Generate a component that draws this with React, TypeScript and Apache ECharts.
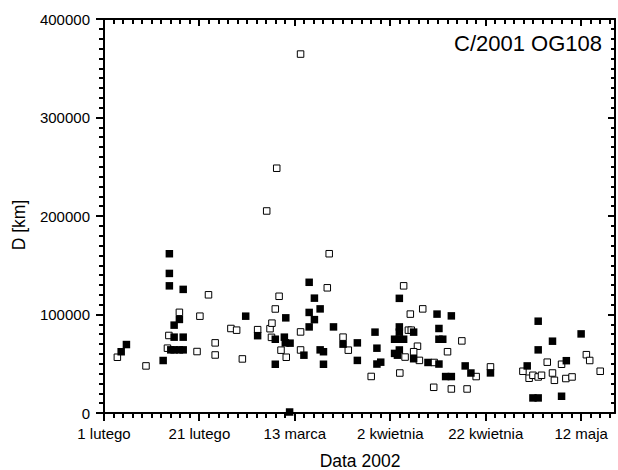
import React, { useEffect, useRef } from "react";
import * as echarts from "echarts";

// Days counted from 1 February 2002
const xTickDays = [0, 20, 40, 60, 80, 100];
const xTickLabels = ["1 lutego", "21 lutego", "13 marca", "2 kwietnia", "22 kwietnia", "12 maja"];

// Filled squares
const filledDays = [3.6, 4.7, 12.4, 13.7, 13.7, 13.7, 16.6, 14.7, 15.8, 14.7, 16.6, 14.0, 14.7, 15.8, 16.6, 29.7, 32.2, 35.9, 35.9, 37.8, 38.1, 38.0, 39.0, 38.9, 41.9, 43.0, 44.1, 43.0, 44.1, 43.0, 45.3, 45.3, 46.0, 46.0, 48.1, 50.1, 53.1, 53.1, 56.8, 57.2, 57.2, 58.0, 61.9, 61.9, 61.9, 60.9, 61.9, 62.8, 64.9, 60.9, 61.9, 61.5, 64.9, 67.9, 70.2, 69.8, 72.8, 70.2, 70.2, 71.0, 71.6, 72.8, 75.7, 76.9, 81.0, 88.7, 91.0, 91.0, 94.0, 96.9, 89.9, 91.0, 95.9, 100.0];
const filledKm = [62200, 69500, 53300, 161700, 141700, 129100, 125500, 89200, 95000, 77000, 77000, 64100, 64100, 64100, 64100, 98300, 78500, 74900, 49500, 77000, 96600, 71200, 70900, 1000, 58700, 132700, 116600, 102100, 94800, 87400, 105700, 64100, 62200, 49500, 87400, 69900, 71200, 53400, 82100, 65800, 49700, 51600, 116400, 87400, 82100, 74900, 74900, 74900, 82100, 60500, 64000, 58700, 55100, 51300, 49700, 100400, 98600, 85800, 74900, 74900, 37000, 37000, 47800, 40600, 40700, 47800, 93200, 64100, 72900, 53100, 15300, 15300, 17000, 80300];

// Open squares
const openDays = [2.8, 8.8, 13.6, 13.3, 15.8, 20.1, 19.5, 21.9, 23.3, 23.3, 26.6, 27.8, 29.0, 32.2, 34.1, 34.8, 35.2, 35.1, 35.9, 36.7, 36.2, 37.1, 38.2, 41.2, 41.2, 41.2, 47.2, 46.8, 50.1, 51.2, 56.0, 62.8, 64.2, 66.8, 63.8, 64.4, 65.7, 64.9, 63.1, 66.1, 69.2, 62.0, 69.1, 72.0, 75.0, 72.8, 76.1, 78.0, 81.0, 87.8, 89.1, 89.9, 91.0, 91.7, 92.9, 94.0, 94.4, 95.9, 96.8, 98.1, 101.1, 101.8, 104.0];
const openKm = [56600, 47800, 78700, 65800, 102200, 98300, 62400, 120000, 71200, 58900, 85800, 84100, 54900, 84600, 205100, 85600, 91200, 76800, 105600, 118500, 248500, 63800, 56600, 364400, 82300, 64000, 161700, 127100, 77000, 63800, 37100, 129100, 100400, 105700, 84100, 84100, 67800, 62200, 56800, 53400, 51300, 40600, 26100, 62200, 73200, 24400, 24400, 37000, 46800, 42400, 35300, 38300, 36600, 38300, 51600, 40600, 33200, 49500, 35000, 36600, 59200, 53300, 42400];

const FONT = "'Liberation Sans', Arial, Helvetica, sans-serif";
const X_MAX = 107.1;
const Y_MAX = 400000;

export default function App() {
  const ref = useRef<HTMLDivElement>(null);

  useEffect(() => {
    if (!ref.current) return;
    const chart = echarts.init(ref.current, undefined, { renderer: "svg" });

    // minor tick positions on the date axis (decoration only, every 2 days)
    const xMinorDays: number[] = [];
    for (let d = 2; d < X_MAX; d += 2) if (d % 20 !== 0) xMinorDays.push(d);

    const W = 2;
    const xTicks = (bottomLen: number, topLen: number) => (params: any, api: any) => {
      const v = api.value(0);
      const b = api.coord([v, 0]);
      const t = api.coord([v, Y_MAX]);
      const x = Math.round(b[0]) - W / 2;
      return {
        type: "group",
        children: [
          { type: "rect", shape: { x, y: Math.round(b[1]), width: W, height: bottomLen }, style: { fill: "#000" } },
          { type: "rect", shape: { x, y: Math.round(t[1]), width: W, height: topLen }, style: { fill: "#000" } },
        ],
      };
    };

    const axLine = { show: true, onZero: false, lineStyle: { color: "#000", width: 2 } };
    const tickLine = { color: "#000", width: 2 };

    const option: any = {
      animation: false,
      backgroundColor: "#fff",
      grid: { left: 104, right: 2, top: 19, bottom: 57, containLabel: false },
      xAxis: [
        {
          type: "value",
          min: 0,
          max: X_MAX,
          interval: 20,
          position: "bottom",
          splitLine: { show: false },
          axisLine: axLine,
          axisTick: { show: false },
          axisLabel: {
            show: true,
            margin: 13,
            color: "#000",
            fontSize: 15,
            fontFamily: FONT,
            formatter: (v: number) => {
              for (let i = 0; i < xTickDays.length; i++) {
                if (Math.abs(v - xTickDays[i]) < 1e-6) return xTickLabels[i];
              }
              return "";
            },
          },
        },
        {
          type: "value",
          min: 0,
          max: X_MAX,
          interval: 20,
          position: "top",
          splitLine: { show: false },
          axisLine: axLine,
          axisTick: { show: false },
          axisLabel: { show: false },
        },
      ],
      yAxis: [
        {
          type: "value",
          position: "left",
          min: 0,
          max: Y_MAX,
          interval: 100000,
          splitLine: { show: false },
          axisLine: axLine,
          axisTick: { show: true, inside: false, length: 8, lineStyle: tickLine },
          minorTick: { show: true, splitNumber: 10, length: 5, lineStyle: tickLine },
          minorSplitLine: { show: false },
          axisLabel: {
            show: true,
            margin: 14,
            color: "#000",
            fontSize: 15,
            fontFamily: FONT,
            formatter: (v: number) => String(v),
          },
        },
        {
          type: "value",
          position: "right",
          min: 0,
          max: Y_MAX,
          interval: 100000,
          splitLine: { show: false },
          axisLine: axLine,
          axisTick: { show: true, inside: true, length: 7, lineStyle: tickLine },
          minorTick: { show: true, splitNumber: 10, length: 4, lineStyle: tickLine },
          minorSplitLine: { show: false },
          axisLabel: { show: false },
        },
      ],
      series: [
        {
          name: "xMajorTicks",
          type: "custom",
          coordinateSystem: "cartesian2d",
          clip: false,
          silent: true,
          z: 5,
          renderItem: xTicks(8, 7),
          data: xTickDays.map((d) => [d, 0]),
        },
        {
          name: "xMinorTicks",
          type: "custom",
          coordinateSystem: "cartesian2d",
          clip: false,
          silent: true,
          z: 5,
          renderItem: xTicks(5, 5),
          data: xMinorDays.map((d) => [d, 0]),
        },
        {
          name: "open",
          type: "scatter",
          symbol: "rect",
          symbolSize: 6.5,
          itemStyle: { color: "#fff", borderColor: "#000", borderWidth: 1, opacity: 1 },
          emphasis: { disabled: true },
          data: openDays.map((d, i) => [d, openKm[i]]),
          z: 3,
        },
        {
          name: "filled",
          type: "scatter",
          symbol: "rect",
          symbolSize: 7.5,
          itemStyle: { color: "#000", opacity: 1 },
          emphasis: { disabled: true },
          data: filledDays.map((d, i) => [d, filledKm[i]]),
          z: 4,
        },
      ],
      graphic: [
        {
          type: "text",
          x: 602,
          y: 43.5,
          style: { text: "C/2001 OG108", fill: "#000", font: `22px ${FONT}`, align: "right", verticalAlign: "middle" },
        },
        {
          type: "text",
          x: 360,
          y: 460.5,
          style: { text: "Data 2002", fill: "#000", font: `17.5px ${FONT}`, align: "center", verticalAlign: "middle" },
        },
        {
          type: "text",
          x: 19,
          y: 225,
          rotation: Math.PI / 2,
          style: { text: "D [km]", fill: "#000", font: `17.5px ${FONT}`, align: "center", verticalAlign: "middle" },
        },
      ],
    };

    chart.setOption(option);
    return () => chart.dispose();
  }, []);

  return (
    <div
      ref={ref}
      style={{ position: "fixed", left: 0, top: 0, width: 618, height: 470, background: "#fff" }}
    />
  );
}
